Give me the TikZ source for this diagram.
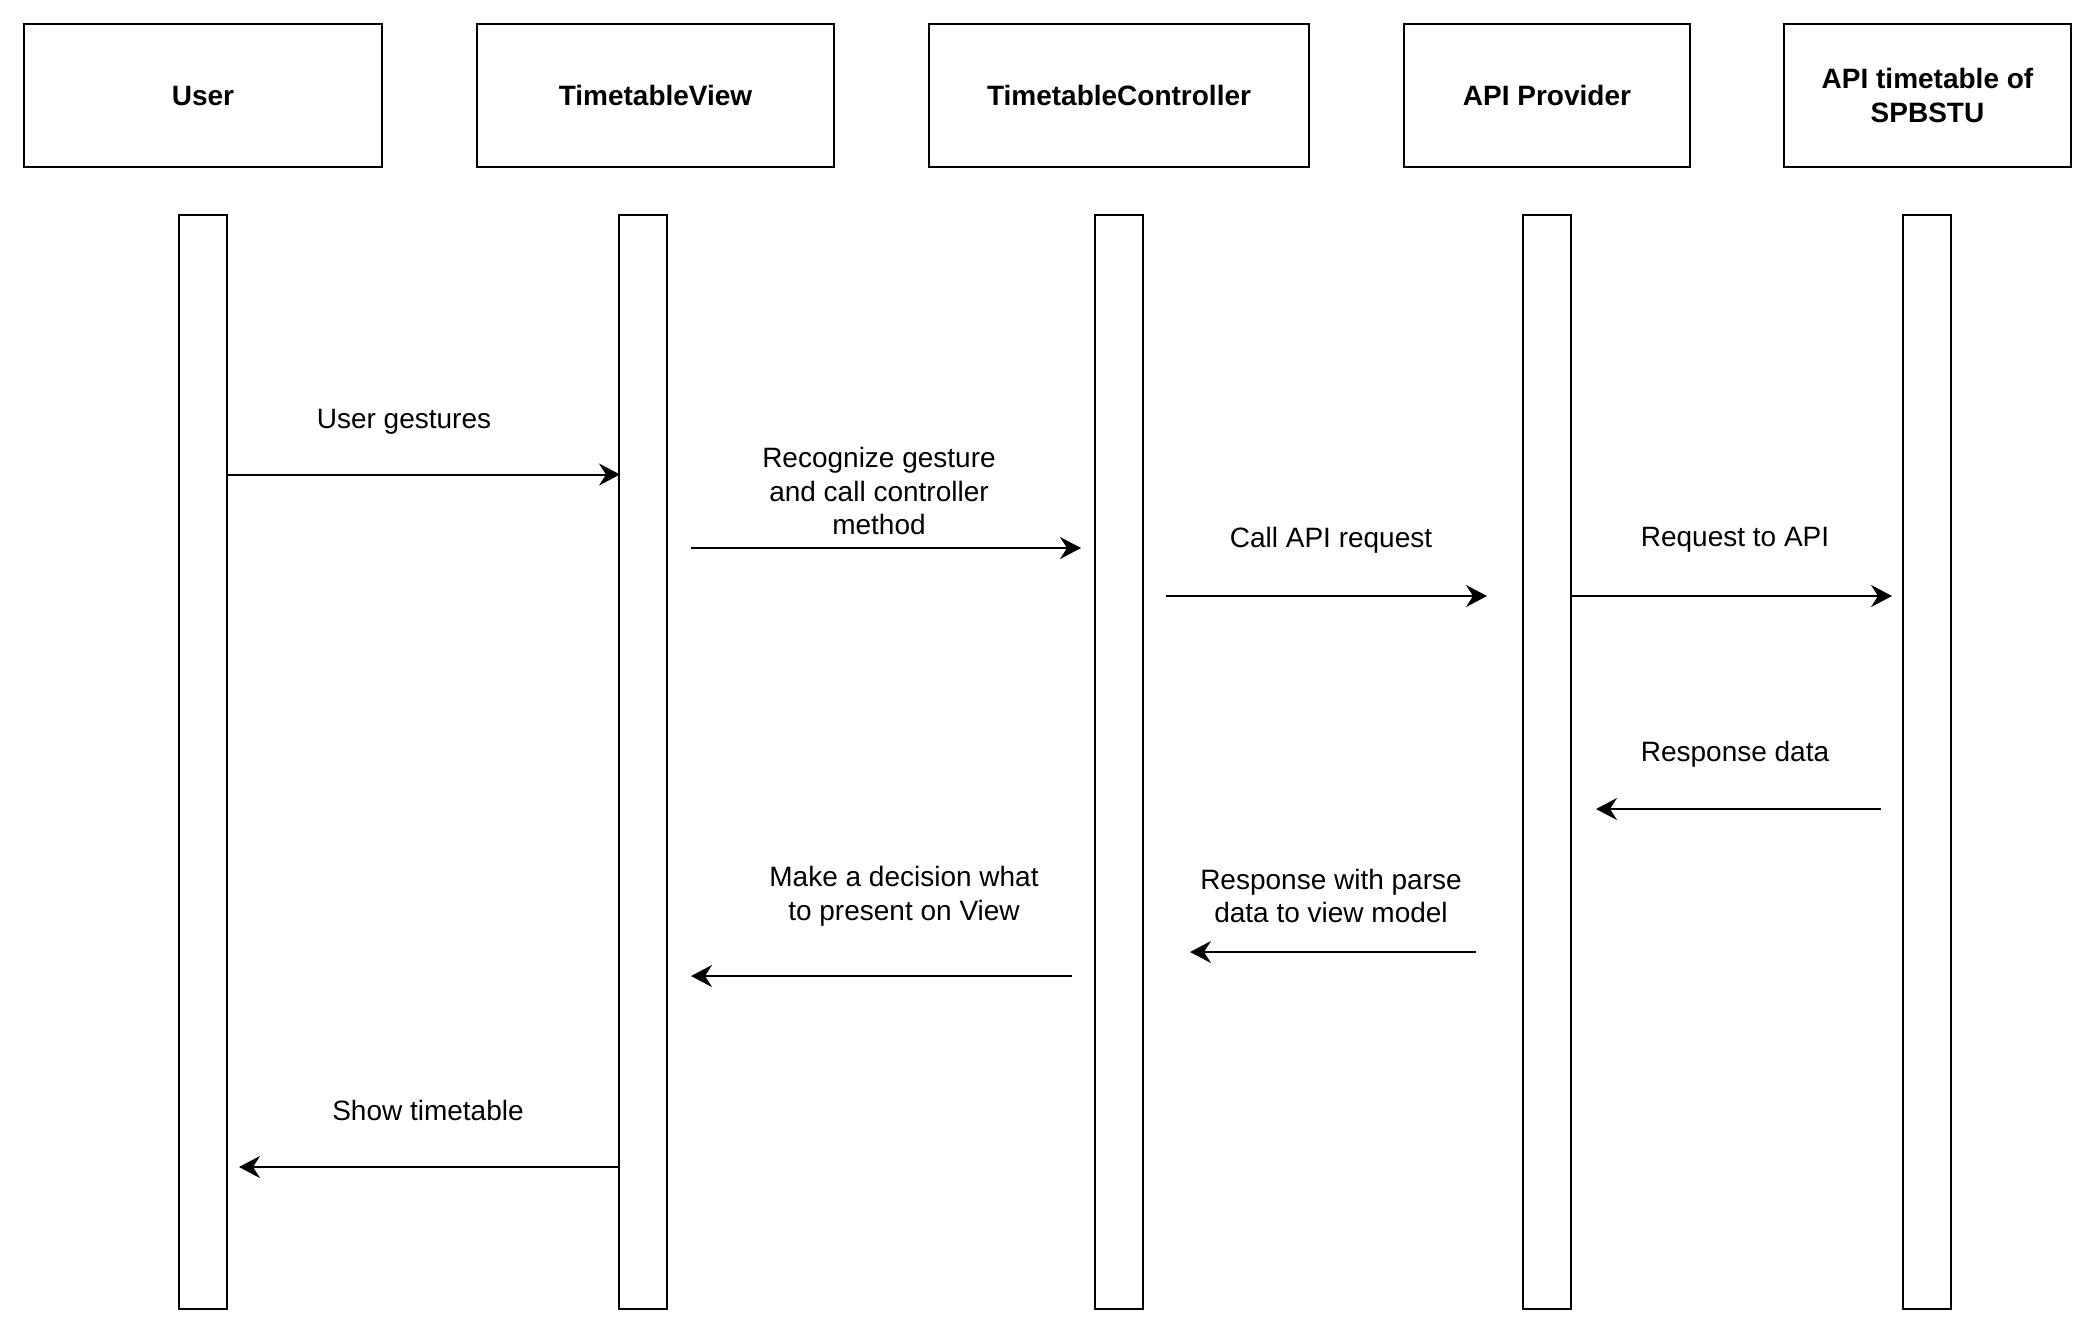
\documentclass[tikz,border=0pt]{standalone}
\usepackage{fontspec}
\setmainfont{Liberation Sans}
\usetikzlibrary{arrows.meta}

\tikzset{
  obj/.style={draw, line width=1pt, minimum height=71.5pt, inner sep=0pt, align=center, font=\bfseries\fontsize{14}{16.8}\selectfont},
  life/.style={draw, line width=1pt, minimum width=24pt, minimum height=547pt, inner sep=0pt},
  msg/.style={line width=1pt, -{Stealth[length=10.5pt,width=11pt,inset=3.5pt]}},
  lbl/.style={align=center, inner sep=0pt, font=\fontsize{14}{16.8}\selectfont}
}

\begin{document}
\begin{tikzpicture}[x=0.5pt,y=-0.5pt]
            \useasboundingbox (0,0) rectangle (2096,1335);

            % Place the object boxes
            \node[obj, minimum width=179pt] (user) at (203,95.5) {User};
            \node[obj, minimum width=178.5pt] (view) at (655.5,95.5) {TimetableView};
            \node[obj, minimum width=190pt] (ctrl) at (1119,95.5) {TimetableController};
            \node[obj, minimum width=143pt] (prov) at (1547,95.5) {API Provider};
            \node[obj, minimum width=143.5pt] (api) at (1927.5,95.5) {API timetable of\\SPBSTU};

            % Place the lifelines
            \node[life] (luser) at (203,762) {};
            \node[life] (lview) at (643,762) {};
            \node[life] (lctrl) at (1119,762) {};
            \node[life] (lprov) at (1547,762) {};
            \node[life] (lapi) at (1927,762) {};

            % Message ends
            \coordinate (m1) at (620,474.5);
            \coordinate (a2) at (691,548);
            \coordinate (m2) at (1081,548);
            \coordinate (a3) at (1166,596);
            \coordinate (m3) at (1487,596);
            \coordinate (m4) at (1892,596);
            \coordinate (a5) at (1881,809);
            \coordinate (m5) at (1596,809);
            \coordinate (a6) at (1476,952);
            \coordinate (m6) at (1190,952);
            \coordinate (a7) at (1072,976);
            \coordinate (m7) at (691,976);
            \coordinate (m8) at (239,1167);

            % The messages!
            \draw[msg] (luser.east |- m1) -- (m1);
            \draw[msg] (a2) -- (m2);
            \draw[msg] (a3) -- (m3);
            \draw[msg] (lprov.east |- m4) -- (m4);
            \draw[msg] (a5) -- (m5);
            \draw[msg] (a6) -- (m6);
            \draw[msg] (a7) -- (m7);
            \draw[msg] (lview.west |- m8) -- (m8);

            % Labels
            \node[lbl] (t1) at (404,422) {User gestures};
            \node[lbl] (t2) at (879,491) {Recognize gesture\\and call controller\\method};
            \node[lbl] (t3) at (1331,540) {Call API request};
            \node[lbl] (t4) at (1735,540) {Request to API};
            \node[lbl] (t5) at (1735,754) {Response data};
            \node[lbl] (t6) at (1331,896) {Response with parse\\data to view model};
            \node[lbl] (t7) at (904,896) {Make a decision what\\to present on View};
            \node[lbl] (t8) at (428,1110) {Show timetable};
        \end{tikzpicture}
\end{document}
